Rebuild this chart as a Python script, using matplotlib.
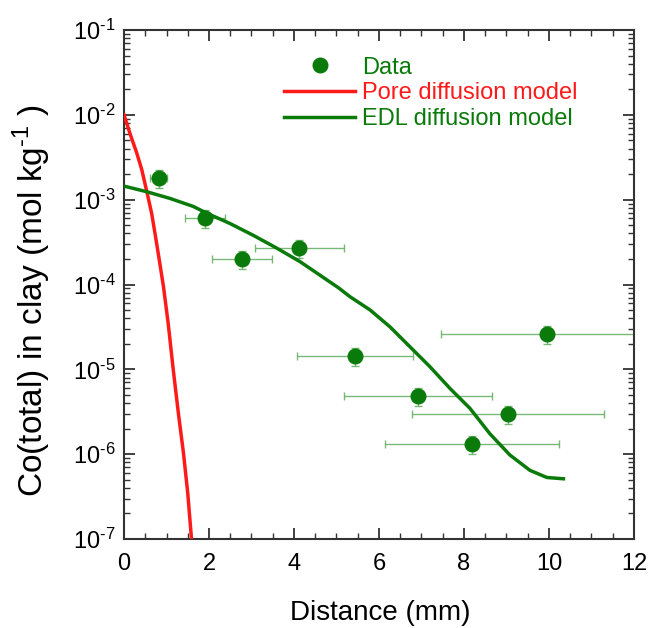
import numpy as np
import matplotlib
matplotlib.use('Agg')
import matplotlib.pyplot as plt
from matplotlib.ticker import LogLocator, MultipleLocator, NullFormatter

plt.rcParams['font.family'] = ['Liberation Sans', 'DejaVu Sans']
plt.rcParams['mathtext.fontset'] = 'custom'
plt.rcParams['mathtext.rm'] = 'Liberation Sans'

# measured data
data_x = [0.82, 1.90, 2.78, 4.12, 5.44, 6.91, 9.04, 8.18, 9.95]
data_y = [1.8e-3, 6.1e-4, 2.0e-4, 2.7e-4, 1.45e-5, 4.8e-6, 3.0e-6, 1.32e-6, 2.6e-5]
x_lo = [0.62, 1.43, 2.07, 3.08, 4.07, 5.18, 6.78, 6.14, 7.46]
x_hi = [1.02, 2.37, 3.48, 5.18, 6.80, 8.66, 11.30, 10.24, 12.60]
y_rel_err = 0.24

# pore diffusion model (log10 of concentration)
pore_x = [0, 0.14, 0.30, 0.42, 0.53, 0.65, 0.73, 0.83, 0.93, 1.04, 1.16, 1.28, 1.40, 1.50, 1.59]
pore_logy = [-2.0, -2.22, -2.45, -2.65, -2.89, -3.16, -3.40, -3.71, -4.03, -4.46, -5.01,
             -5.52, -5.99, -6.46, -7.01]

# EDL diffusion model
edl_x = [0, 0.53, 1.08, 1.63, 1.95, 2.49, 3.04, 3.59, 4.14, 4.61, 5.05, 5.32, 5.79, 6.26,
         6.73, 7.20, 7.67, 8.14, 8.61, 9.08, 9.55, 9.95, 10.34]
edl_logy = [-2.84, -2.906, -2.985, -3.08, -3.16, -3.28, -3.42, -3.57, -3.73, -3.89, -4.04,
            -4.145, -4.30, -4.50, -4.735, -4.97, -5.225, -5.46, -5.76, -6.01, -6.19,
            -6.275, -6.29]

ytick_exp = [-7, -6, -5, -4, -3, -2, -1]

green = '#0a7a0a'
red = '#ff1a1a'
errc = '#5fae5f'
HY = '\u2010'  # short hyphen instead of the wide mathtext minus

fig = plt.figure(figsize=(6.49, 6.28), dpi=100)
ax = fig.add_axes([124 / 649, 1 - 539 / 628, 510 / 649, 509 / 628])

x_arr = np.array(data_x)
y_arr = np.array(data_y)
xerr = [x_arr - np.array(x_lo), np.array(x_hi) - x_arr]
ax.errorbar(data_x, data_y, xerr=xerr, yerr=y_arr * y_rel_err, fmt='none',
            ecolor=errc, elinewidth=1.0, capsize=3, capthick=1.0, alpha=0.85, zorder=2)
ax.plot(data_x, data_y, 'o', color=green, markersize=10.5, zorder=4, label='Data')

ax.plot(pore_x, 10 ** np.array(pore_logy), color=red, lw=2.5,
        label='Pore diffusion model', zorder=3)
ax.plot(edl_x, 10 ** np.array(edl_logy), color=green, lw=2.5,
        label='EDL diffusion model', zorder=3)

ax.set_yscale('log')
ax.set_xlim(0, 12)
ax.set_ylim(1e-7, 1e-1)

ax.xaxis.set_major_locator(MultipleLocator(2))
ax.xaxis.set_minor_locator(MultipleLocator(0.5))
ax.yaxis.set_minor_locator(LogLocator(base=10, subs=np.arange(2, 10), numticks=20))
ax.yaxis.set_minor_formatter(NullFormatter())
ax.set_yticks([10.0 ** k for k in ytick_exp])
ax.set_yticklabels(['$\\mathregular{10^{%s%d}}$' % (HY, -k) for k in ytick_exp])

ax.tick_params(which='both', direction='in', top=True, right=True, colors='#333333',
               labelcolor='black', labelsize=17)
ax.tick_params(which='major', length=8, width=1.3)
ax.tick_params(which='minor', length=4, width=1.0)
ax.tick_params(axis='x', which='major', pad=10)
ax.tick_params(axis='y', which='major', pad=6)
for s in ax.spines.values():
    s.set_linewidth(1.5)
    s.set_color('#333333')

fig.text(380 / 649, 1 - 613 / 628, 'Distance (mm)', fontsize=20, ha='center', va='center')
fig.text(32 / 649, 1 - 301 / 628, 'Co(total) in clay (mol kg$^{\\mathregular{%s1}}$ )' % HY,
         fontsize=24, rotation=90, ha='center', va='center')

leg = ax.legend(loc='upper left', bbox_to_anchor=(0.282, 0.98), frameon=False, fontsize=17,
                handlelength=3.0, handletextpad=0.3, labelspacing=0.15, borderpad=0.2)
for t, c in zip(leg.get_texts(), [green, red, green]):
    t.set_color(c)

fig.savefig('out.png', dpi=100)
